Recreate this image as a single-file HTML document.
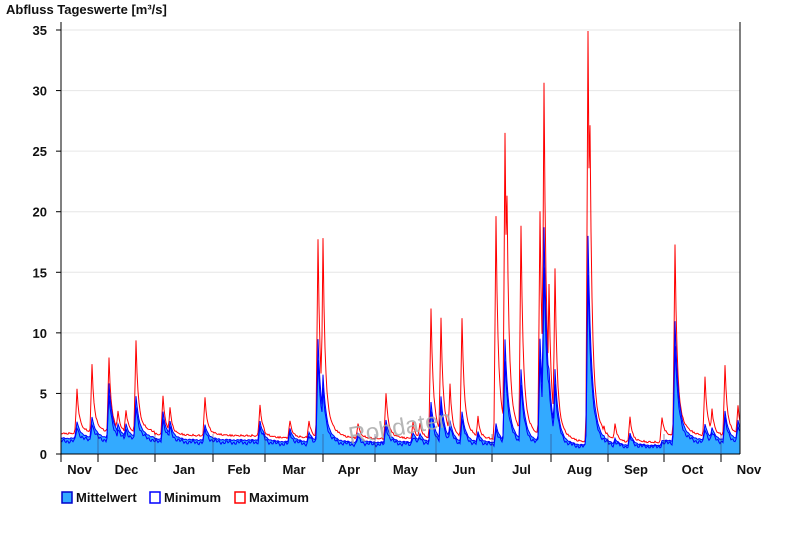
<!DOCTYPE html>
<html><head><meta charset="utf-8"><style>
body{margin:0;background:#fff;width:800px;height:550px;overflow:hidden;font-family:"Liberation Sans",Arial,sans-serif}
text{font-family:"Liberation Sans",Arial,sans-serif;font-weight:bold;font-size:13px;fill:#111}
</style></head><body>
<svg id="s" width="800" height="550" xmlns="http://www.w3.org/2000/svg">
<text x="6" y="14" font-size="13">Abfluss Tageswerte [m³/s]</text>
<g id="grid" stroke="#e6e6e6" stroke-width="1"></g>
<g id="data"></g>
<text x="348" y="436" transform="rotate(-10 395 428)" style="font-size:24px;font-weight:normal;fill:#aaa;opacity:.85">Rohdaten</text>
<g id="axes"></g>
<g transform="translate(61,490)">
<rect x="1" y="2" width="10" height="11" fill="#33aaff" stroke="#0000cc" stroke-width="1.5"/><text x="15" y="12">Mittelwert</text>
<rect x="89" y="2" width="10" height="11" fill="#fff" stroke="#0000ff" stroke-width="1.5"/><text x="103" y="12">Minimum</text>
<rect x="174" y="2" width="10" height="11" fill="#fff" stroke="#ff0000" stroke-width="1.5"/><text x="188" y="12">Maximum</text>
</g>
</svg>
<script>
var NS="http://www.w3.org/2000/svg",X0=61,X1=740,Y0=454,K=12.114;
function el(p,t,a,tx){var e=document.createElementNS(NS,t);for(var k in a)e.setAttribute(k,a[k]);if(tx)e.textContent=tx;document.getElementById(p).appendChild(e);return e;}
for(var v=5;v<=35;v+=5)el('grid','line',{x1:X0,x2:X1,y1:Y0-v*K,y2:Y0-v*K});
function base(x){if(x<155)return 1.3;if(x<265)return 1.15;if(x<323)return 1.0;if(x<436)return 0.95;if(x<549)return 0.9;if(x<663)return 0.7;return 1.1;}
var P=[[77,5.3,2.7],[92,7.3,3.1],[109,7.9,5.8],[118,3.5,2.5],[126,3.6,2.5],[136,9.3,4.8],[163,4.8,3.5],[170,3.8,2.7],[205,4.6,2.4],[260,4.0,2.7],[290,2.7,2.1],[309,2.7,1.8],[318,17.7,9.5],[323,17.7,6.5],[358,2.5,1.7],[386,5,2.8],[413,2.5,1.8],[420,2.5,1.7],[431,12,4.3],[441,11.1,4.7],[450,5.7,2.8],[462,11.2,3.5],[478,3,1.8],[496,19.6,2.5],[505,26.4,9.5],[507,21.3,5],[521,18.8,7],[540,20,9.5],[544,30.6,18.7],[549,14,7],[555,15.3,7],[588,34.9,18],[590,27,9],[604,2.3,1.5],[615,2.5,1.3],[630,3,1.7],[662,3,1.1],[675,17.2,11],[678,4.7,3],[705,6.3,2.5],[712,3.7,2.2],[725,7.2,3.5],[738,4,2.8]];
function sh(dx,tau){return dx>=0?Math.exp(-dx/tau):Math.exp(-(dx*dx)/1.5);}
var mx=[],mn=[],me=[];
for(var x=X0;x<=X1;x++){var b=base(x),bm=b*1.25,a=bm,m=b;
var nz=Math.sin(x*1.7)*0.12+Math.sin(x*0.53)*0.08;
for(var i=0;i<P.length;i++){var dx=x-P[i][0];
a=Math.max(a,bm+(P[i][1]-bm)*(0.78*sh(dx,2)+0.22*sh(dx,8)));
m=Math.max(m,b+(P[i][2]-b)*(0.72*sh(dx,3)+0.28*sh(dx,8)));}
var n=Math.max(0.5,m*0.82+nz);
mx.push([x,Y0-(a+Math.abs(nz)*0.8)*K]);me.push([x,Y0-(m+nz*0.3)*K]);mn.push([x,Y0-n*K]);}
function pts(a){return a.map(function(p){return p[0]+","+p[1].toFixed(1)}).join(" ");}
el('data','polygon',{points:X0+","+Y0+" "+pts(me)+" "+X1+","+Y0,fill:"#33aaff"});
el('data','polyline',{points:pts(mx),fill:"none",stroke:"#ff0000","stroke-width":1});
el('data','polyline',{points:pts(me),fill:"none",stroke:"#0000ff","stroke-width":1});
el('data','polyline',{points:pts(mn),fill:"none",stroke:"#0000ff","stroke-width":1});
el('axes','line',{x1:X0,x2:X0,y1:22,y2:Y0,stroke:"#000"});
el('axes','line',{x1:X1,x2:X1,y1:22,y2:Y0,stroke:"#000"});
el('axes','line',{x1:X0,x2:X1,y1:Y0,y2:Y0,stroke:"#000"});
for(var v=0;v<=35;v+=5){var y=Y0-v*K;el('axes','line',{x1:56,x2:X0,y1:y,y2:y,stroke:"#000"});el('axes','text',{x:47,y:y+5,"text-anchor":"end"},String(v));}
var T=[61,98,155,213,265,323,375,436,492,551,608,664,721],L=["Nov","Dec","Jan","Feb","Mar","Apr","May","Jun","Jul","Aug","Sep","Oct","Nov"];
for(var i=0;i<T.length;i++){el('axes','line',{x1:T[i],x2:T[i],y1:Y0,y2:462,stroke:"#000"});if(i>0)el('axes','line',{x1:T[i],x2:T[i],y1:Y0-20,y2:Y0,stroke:"#336",opacity:.5});
var c=i<12?(T[i]+T[i+1])/2:749;el('axes','text',{x:c,y:474,"text-anchor":"middle"},L[i]);}
</script>
</body></html>
